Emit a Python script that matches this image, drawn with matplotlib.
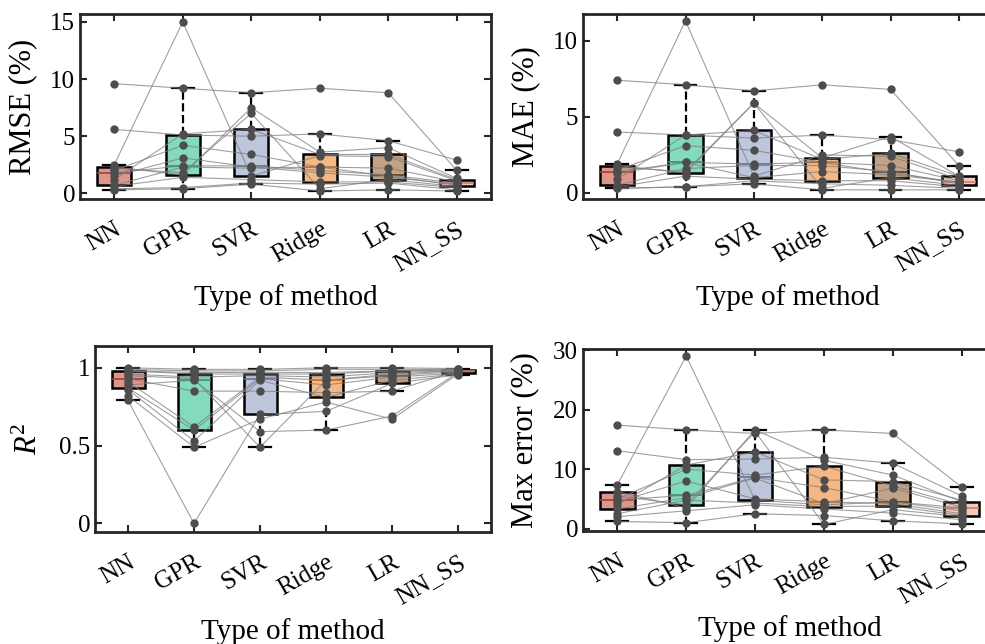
import matplotlib
matplotlib.use('Agg')
from matplotlib import pyplot as plt
import numpy as np

plt.rcParams['font.family'] = 'Liberation Serif'
plt.rcParams['mathtext.fontset'] = 'custom'
plt.rcParams['mathtext.rm'] = 'Liberation Serif'
plt.rcParams['mathtext.it'] = 'Liberation Serif:italic'

methods = ['NN', 'GPR', 'SVR', 'Ridge', 'LR', 'NN_SS']

# one list per method, same dataset order in every list
rmse = [
    [9.6, 5.6, 2.5, 2.3, 2.2, 2.0, 1.8, 1.5, 1.2, 0.7, 0.6, 0.4, 0.3],
    [9.2, 5.1, 15.0, 1.6, 1.8, 4.2, 2.4, 3.1, 5.2, 2.3, 1.4, 0.5, 0.4],
    [8.8, 5.0, 1.5, 7.5, 7.0, 3.4, 2.4, 2.3, 5.6, 2.2, 1.2, 0.9, 0.8],
    [9.2, 5.2, 3.3, 3.6, 0.4, 2.3, 2.0, 1.8, 3.4, 2.3, 1.0, 0.8, 0.2],
    [8.8, 4.6, 3.2, 4.0, 1.2, 2.2, 1.6, 1.4, 3.4, 1.5, 1.0, 0.9, 0.3],
    [2.0, 2.9, 1.1, 1.3, 0.6, 1.0, 0.9, 0.8, 1.2, 0.7, 0.5, 0.3, 0.2],
]
mae = [
    [7.4, 4.0, 1.9, 1.8, 1.7, 1.5, 1.4, 1.3, 0.9, 0.5, 0.4, 0.3, 0.3],
    [7.1, 3.8, 11.3, 1.3, 1.4, 3.1, 2.0, 2.0, 3.8, 1.6, 1.1, 0.4, 0.4],
    [6.7, 3.6, 1.1, 5.9, 5.9, 2.8, 1.9, 1.0, 4.1, 1.8, 0.9, 0.8, 0.6],
    [7.1, 3.8, 2.5, 2.3, 0.3, 2.0, 2.0, 1.4, 2.2, 1.8, 0.8, 0.6, 0.2],
    [6.8, 3.5, 2.4, 3.7, 1.0, 1.8, 1.3, 1.2, 2.6, 1.4, 0.8, 0.5, 0.2],
    [1.8, 2.7, 0.9, 1.1, 0.5, 0.8, 0.7, 0.7, 1.1, 0.6, 0.4, 0.3, 0.2],
]
r2 = [
    [1.0, 0.99, 0.98, 0.98, 0.96, 0.95, 0.93, 0.91, 0.89, 0.87, 0.86, 0.82, 0.79],
    [0.99, 0.98, 0.97, 0.96, 0.94, 0.93, 0.85, 0.62, 0.92, 0.60, 0.53, 0.49, 0.0],
    [0.99, 0.98, 0.97, 0.96, 0.95, 0.49, 0.85, 0.94, 0.59, 0.93, 0.92, 0.67, 0.70],
    [1.0, 0.99, 0.97, 0.96, 0.94, 0.92, 0.84, 0.92, 0.60, 0.89, 0.81, 0.78, 0.72],
    [1.0, 0.99, 0.98, 0.98, 0.97, 0.96, 0.85, 0.95, 0.69, 0.94, 0.92, 0.67, 0.90],
    [0.995, 0.99, 0.99, 0.985, 0.98, 0.98, 0.98, 0.975, 0.97, 0.965, 0.96, 0.96, 0.955],
]
maxerr = [
    [17.4, 13.1, 7.4, 6.2, 5.5, 5.0, 4.8, 4.5, 4.0, 3.3, 2.5, 2.0, 1.2],
    [16.6, 11.6, 29.0, 3.5, 4.0, 10.0, 5.6, 8.0, 10.7, 5.2, 4.8, 3.0, 1.0],
    [16.0, 11.7, 4.8, 16.6, 16.3, 9.0, 8.6, 5.0, 12.9, 8.5, 4.3, 4.0, 2.5],
    [16.6, 12.0, 4.0, 11.5, 0.7, 10.5, 6.9, 4.5, 8.2, 4.2, 3.7, 3.3, 2.2],
    [16.0, 11.0, 4.5, 9.0, 3.2, 7.2, 4.5, 4.2, 7.9, 6.8, 3.8, 2.6, 1.3],
    [7.0, 5.5, 3.5, 4.5, 2.0, 4.0, 3.0, 2.5, 4.8, 3.6, 2.2, 1.5, 0.8],
]

fill_colors = ['#dc968c', '#84dabd', '#bec6dc', '#f5b784', '#c4a285', '#f3c9bb']
median_colors = ['#a53e35', '#3f8f73', '#62729a', '#c77130', '#5c3a22', '#c98272']

panels = [
    (rmse, 'RMSE (%)', [0, 5, 10, 15], (-0.5, 15.7), [80, 14, 491, 199], -0.105),
    (mae, 'MAE (%)', [0, 5, 10], (-0.4, 11.75), [583, 14, 993, 199], -0.105),
    (r2, '$R^2$', [0, 0.5, 1], (-0.055, 1.14), [95, 346, 491, 532], -0.13),
    (maxerr, 'Max error (%)', [0, 10, 20, 30], (-0.4, 30.2), [583, 349, 996, 531], -0.105),
]

W, H = 985, 644
fig = plt.figure(figsize=(W / 100, H / 100), dpi=100)

pos = np.arange(1, len(methods) + 1)
for vals, ylab, yt, ylim, (x0, y0, x1, y1), ylx in panels:
    ax = fig.add_axes([x0 / W, (H - y1) / H, (x1 - x0) / W, (y1 - y0) / H])
    bp = ax.boxplot(vals, positions=pos, widths=0.5, patch_artist=True,
                    showfliers=False, capwidths=0.32,
                    whiskerprops=dict(color='black', lw=1.6, ls='--'),
                    capprops=dict(color='black', lw=1.6),
                    boxprops=dict(edgecolor='black', lw=1.8),
                    medianprops=dict(lw=1.2))
    for i, b in enumerate(bp['boxes']):
        b.set_facecolor(fill_colors[i])
        b.set_zorder(1)
    for i, m in enumerate(bp['medians']):
        m.set_color(median_colors[i])
    # paired lines per dataset
    arr = np.array(vals)
    for j in range(arr.shape[1]):
        ax.plot(pos, arr[:, j], color='#808080', lw=0.8, alpha=0.75, zorder=3)
    for i in range(len(methods)):
        ax.plot(np.full(arr.shape[1], pos[i]), arr[i], 'o', color='#4d4d4d',
                ms=6, mec='none', zorder=4)
    ax.set_xlim(0.5, 6.5)
    ax.set_ylim(*ylim)
    ax.set_yticks(yt)
    ax.set_yticklabels([('%g' % t) for t in yt])
    ax.set_xticks(pos)
    ax.set_xticklabels(methods, rotation=30, ha='right', va='top',
                       rotation_mode='anchor')
    ax.tick_params(direction='in', length=5, width=1.5, top=True, right=True,
                   labelsize=18, color='#262626')
    ax.tick_params(axis='x', pad=14)
    for s in ax.spines.values():
        s.set_linewidth(2)
        s.set_color('#262626')
    ax.set_ylabel(ylab, fontsize=22)
    ax.yaxis.set_label_coords(ylx, 0.5)
    ax.set_xlabel('Type of method', fontsize=21)
    ax.xaxis.set_label_coords(0.5, -0.46)

plt.savefig('out.png', dpi=100)
